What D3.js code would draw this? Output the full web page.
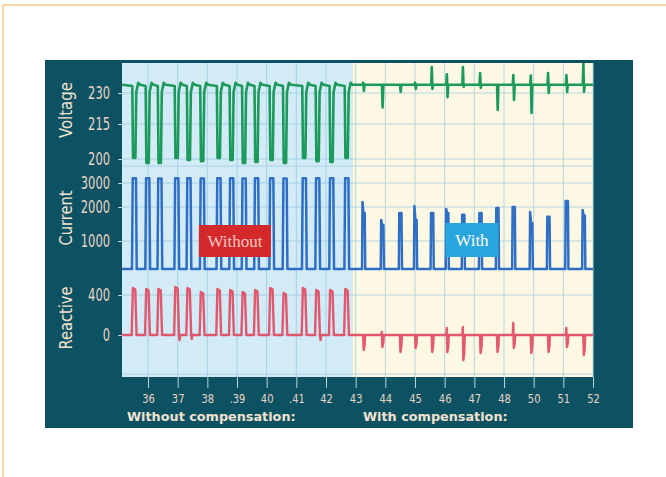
<!DOCTYPE html>
<html>
<head>
<meta charset="utf-8">
<script src="https://cdn.jsdelivr.net/npm/d3@7"></script>
<style>
  html, body { margin: 0; padding: 0; background: #ffffff; }
  svg { display: block; }
</style>
</head>
<body>
<svg id="chart" width="666" height="477"></svg>
<script>
// ---------------- DATA ----------------
const xLabels = ["36","37","38",".39","40",".41","42","43","44","45","46","47","48","50","51","52"];
const voltageTicks = [200, 215, 230];
const currentTicks = [1000, 2000, 3000];
const reactiveTicks = [0, 400];
const panelTitles = ["Voltage", "Current", "Reactive"];
const sectionTitles = ["Without compensation:", "With compensation:"];
const legendLabels = ["Without", "With"];
const switchTime = 6.88;          // compensation switched on (axis index units)
const voltageBase = 234;
const currentBase = 0;
const reactiveBase = 0;

// switching events (axis index units): 16 without compensation, 14 with
const pulseTime = [-0.46,-0.01,0.40,0.97,1.38,1.83,2.39,2.82,3.24,3.66,4.17,4.62,5.27,5.72,6.19,6.70,
                   7.27,7.90,8.51,9.02,9.58,10.09,10.63,11.21,11.78,12.33,12.92,13.50,14.12,14.69];
const currentPeak = [3200,3200,3190,3200,3200,3190,3200,3200,3190,3200,3200,3190,3200,3200,3200,3200,
                     2210,1620,1820,2040,1820,1940,1770,1820,1970,2000,1850,1710,2250,1910];
const currentStep = [0,0,0,0,0,0,0,0,0,0,0,0,0,0,0,0,
                     1820,1470,0,1620,0,1820,0,0,0,0,1530,0,0,1750];
const voltageLow  = [200.4,198.3,198.3,200.4,199.6,199.1,200.4,199.6,198.3,198.7,199.6,198.3,200.4,199.1,198.7,200.4,
                     231,223,230.5,232,232,228,233,232.5,221.8,226.6,220.3,230,230.5,230.5];
const voltageHigh = [234,234,234,234,234,234,234,234,234,234,234,234,234,234,234,234,
                     235,234,234,235,242.6,239,242.6,239.6,234,238.7,238.5,239.6,238.7,244.5];
const reactiveHigh = [470,460,460,480,470,430,460,450,430,450,470,420,470,450,450,460,
                      0,30,0,0,0,70,80,0,0,120,0,0,70,0];
const reactiveLow  = [0,0,0,-50,-40,0,0,0,0,0,0,0,0,-50,0,0,
                      -150,-120,-170,-130,-170,-170,-250,-180,-170,-130,-180,-170,-120,-200];

// ---------------- LAYOUT ----------------
const svg = d3.select("#chart");
const plot = { left: 122, right: 593, top: 63, bottom: 377 };
const C = {
  frame: "#f7c48c", panel: "#0c5262", blueBg: "#d3ebf6", creamBg: "#fcf8e3",
  gridL: "#a6d0e8", gridR: "#b7d6df", text: "#f1e2cf", tick: "#ead4c6",
  volt: "#1c9a5b", curr: "#2e6fc5", react: "#e2475e", redBox: "#d3292b", blueBox: "#2aa6de"
};

const x = d3.scaleLinear().domain([0, 15]).range([148, 593]);
const yV = d3.scaleLinear().domain([200, 215, 230]).range([159, 124, 93]);
const yC = d3.scaleLinear().domain([0, 1000, 2000, 3000]).range([269, 241, 207, 183]);
const yR = d3.scaleLinear().domain([0, 400]).range([335, 295]);
const tMin = x.invert(plot.left), tMax = x.invert(plot.right);

// orange page frame
svg.append("line").attr("x1", 3).attr("x2", 666).attr("y1", 5).attr("y2", 5)
  .attr("stroke", C.frame).attr("stroke-width", 1.5);
svg.append("line").attr("x1", 3).attr("x2", 3).attr("y1", 5).attr("y2", 477)
  .attr("stroke", C.frame).attr("stroke-width", 1.5);

// dark panel
svg.append("rect").attr("x", 45).attr("y", 60).attr("width", 588).attr("height", 368).attr("fill", C.panel);

// backgrounds
svg.append("rect").attr("x", plot.left).attr("y", plot.top)
  .attr("width", x(switchTime) - plot.left).attr("height", plot.bottom - plot.top).attr("fill", C.blueBg);
svg.append("rect").attr("x", x(switchTime)).attr("y", plot.top)
  .attr("width", plot.right - x(switchTime)).attr("height", plot.bottom - plot.top).attr("fill", C.creamBg);

// grid
const grid = svg.append("g");
const hLines = [
  ...voltageTicks.map(v => yV(v)), 166,
  ...currentTicks.map(v => yC(v)), yC(0),
  ...reactiveTicks.map(v => yR(v)), 374
];
[[plot.left, x(switchTime), C.gridL], [x(switchTime), plot.right, C.gridR]].forEach(([a, b, col]) => {
  hLines.forEach(y => grid.append("line").attr("x1", a).attr("x2", b).attr("y1", y).attr("y2", y)
    .attr("stroke", col).attr("stroke-width", 1));
});
d3.range(16).forEach(i => {
  grid.append("line").attr("x1", x(i)).attr("x2", x(i)).attr("y1", plot.top).attr("y2", plot.bottom)
    .attr("stroke", x(i) < x(switchTime) ? C.gridL : C.gridR).attr("stroke-width", 1);
});

// clip
svg.append("clipPath").attr("id", "clip").append("rect")
  .attr("x", plot.left).attr("y", plot.top).attr("width", plot.right - plot.left).attr("height", plot.bottom - plot.top);
const sig = svg.append("g").attr("clip-path", "url(#clip)");

// ---- build waveforms from event arrays ----
function voltagePts() {
  const p = [[tMin, voltageBase]];
  pulseTime.forEach((t, i) => {
    if (i < 16) {
      p.push([t - 0.07, voltageBase - 0.6], [t - 0.045, voltageLow[i]], [t + 0.035, voltageLow[i]],
             [t + 0.065, 230.5], [t + 0.13, voltageBase + 0.9], [t + 0.2, voltageBase]);
    } else {
      p.push([t - 0.035, voltageBase], [t - 0.015, voltageHigh[i]], [t + 0.008, voltageLow[i]], [t + 0.032, voltageBase]);
    }
  });
  p.push([tMax, voltageBase]);
  return p;
}
function currentPts() {
  const p = [[tMin, currentBase]];
  pulseTime.forEach((t, i) => {
    const pk = currentPeak[i];
    if (i < 16) {
      p.push([t - 0.08, currentBase], [t - 0.055, pk], [t + 0.055, pk], [t + 0.08, currentBase]);
    } else {
      const st = currentStep[i] || pk;
      p.push([t - 0.055, currentBase], [t - 0.04, pk], [t - 0.008, st], [t + 0.035, st], [t + 0.052, currentBase]);
    }
  });
  p.push([tMax, currentBase]);
  return p;
}
function reactivePts() {
  const p = [[tMin, reactiveBase]];
  pulseTime.forEach((t, i) => {
    if (i < 16) {
      p.push([t - 0.09, reactiveBase], [t - 0.05, reactiveHigh[i]], [t + 0.03, reactiveHigh[i] - 15], [t + 0.075, reactiveBase]);
      if (reactiveLow[i] < 0) p.push([t + 0.095, reactiveLow[i]], [t + 0.12, reactiveBase]);
    } else {
      p.push([t - 0.035, reactiveBase], [t - 0.018, reactiveHigh[i]], [t, reactiveLow[i]],
             [t + 0.03, reactiveLow[i] * 0.7], [t + 0.048, reactiveBase]);
    }
  });
  p.push([tMax, reactiveBase]);
  return p;
}

sig.append("path").datum(voltagePts())
  .attr("d", d3.line().x(d => x(d[0])).y(d => yV(d[1])))
  .attr("fill", "none").attr("stroke", C.volt).attr("stroke-width", 2.6).attr("stroke-linejoin", "round");
sig.append("path").datum(currentPts())
  .attr("d", d3.line().x(d => x(d[0])).y(d => yC(d[1])))
  .attr("fill", "none").attr("stroke", C.curr).attr("stroke-width", 2.5).attr("stroke-linejoin", "round");
sig.append("path").datum(reactivePts())
  .attr("d", d3.line().x(d => x(d[0])).y(d => yR(d[1])))
  .attr("fill", "none").attr("stroke", C.react).attr("stroke-width", 2.4).attr("stroke-linejoin", "round")
  .attr("opacity", 0.9);

// ---- axes ----
const condFont = "'DejaVu Sans',sans-serif";
function styleAxis(g, size, charW) {
  g.select(".domain").remove();
  g.selectAll(".tick line").attr("stroke", "#b9d3da").attr("stroke-width", 1);
  g.selectAll(".tick text").attr("fill", C.tick).style("font-family", condFont)
    .style("font-size", size + "px").style("font-stretch", "condensed")
    .attr("textLength", function () { return this.textContent.replace(".", "").length * charW + (this.textContent.includes(".") ? 3 : 0); })
    .attr("lengthAdjust", "spacingAndGlyphs");
}
[[yV, voltageTicks], [yC, currentTicks], [yR, reactiveTicks]].forEach(([sc, tv]) => {
  const g = svg.append("g").attr("transform", `translate(${plot.left},0)`)
    .call(d3.axisLeft(sc).tickValues(tv).tickFormat(d3.format("d")).tickSize(4).tickPadding(8));
  styleAxis(g, 18, 7.3);
});
const gx = svg.append("g").attr("transform", `translate(0,${plot.bottom})`)
  .call(d3.axisBottom(x).tickValues(d3.range(16)).tickFormat(i => xLabels[i]).tickSize(11).tickPadding(6));
styleAxis(gx, 12, 6.3);

// panel titles (rotated)
const titleY = [110, 218, 318];
const titleLen = [56, 55, 63];
panelTitles.forEach((t, i) => {
  svg.append("text").attr("transform", `translate(72,${titleY[i]}) rotate(-90)`)
    .attr("text-anchor", "middle").attr("fill", C.text)
    .style("font-family", condFont).style("font-size", "18px").style("font-stretch", "condensed")
    .attr("textLength", titleLen[i]).attr("lengthAdjust", "spacingAndGlyphs")
    .text(t);
});

// section titles
[[127, sectionTitles[0]], [363, sectionTitles[1]]].forEach(([px, t]) => {
  svg.append("text").attr("x", px).attr("y", 421).attr("fill", C.text)
    .style("font-family", "'DejaVu Sans',Verdana,sans-serif").style("font-weight", "bold")
    .style("font-size", "12.8px").text(t);
});

// legend boxes
const boxes = [
  { t: 2.93, w: 72, fill: C.redBox, col: "#f6c6c0", label: legendLabels[0], y: 225, h: 32 },
  { t: 10.92, w: 53, fill: C.blueBox, col: "#ffffff", label: legendLabels[1], y: 223, h: 34 }
];
boxes.forEach(b => {
  const cx = x(b.t);
  svg.append("rect").attr("x", cx - b.w / 2).attr("y", b.y).attr("width", b.w).attr("height", b.h).attr("fill", b.fill);
  svg.append("text").attr("x", cx).attr("y", b.y + b.h / 2 + 6).attr("text-anchor", "middle")
    .attr("fill", b.col).style("font-family", "'Liberation Serif','DejaVu Serif',serif")
    .style("font-size", "17px").text(b.label);
});
</script>
</body>
</html>
